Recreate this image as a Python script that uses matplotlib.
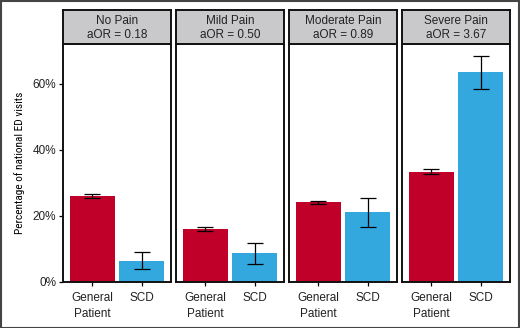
import matplotlib
matplotlib.use("Agg")
import matplotlib.pyplot as plt
from matplotlib import font_manager
from matplotlib.patches import Rectangle
from matplotlib.ticker import PercentFormatter

plt.rcParams['font.family'] = ['Liberation Sans', 'DejaVu Sans']

# data
pain_levels = ['No Pain', 'Mild Pain', 'Moderate Pain', 'Severe Pain']
aor = ['0.18', '0.50', '0.89', '3.67']
groups = ['General\nPatient', 'SCD']

gp_pct = [26.1, 16.0, 24.1, 33.3]
gp_lo = [25.4, 15.5, 23.6, 32.7]
gp_hi = [26.8, 16.6, 24.6, 34.1]

scd_pct = [6.4, 8.7, 21.1, 63.5]
scd_lo = [3.8, 5.6, 16.7, 58.5]
scd_hi = [9.1, 11.7, 25.5, 68.6]

RED = '#C1002A'
BLUE = '#33A8DF'
STRIP = '#C9C9CB'

# narrow font for the y label if one is installed
installed = {(f.name, f.stretch) for f in font_manager.fontManager.ttflist}
narrow = None
for name in ['Liberation Sans Narrow', 'DejaVu Sans Condensed', 'Roboto Condensed']:
    if any(n == name for n, _ in installed):
        narrow = dict(family=[name, 'DejaVu Sans'], fontsize=8.2)
        break
if narrow is None and any(n == 'DejaVu Sans' and str(s).startswith('condensed')
                          for n, s in installed):
    narrow = dict(family=['DejaVu Sans'], fontstretch='condensed', fontsize=7.3)
if narrow is None:
    narrow = dict(family=['Liberation Sans', 'DejaVu Sans'], fontsize=6.8)

W, H = 520, 328
fig = plt.figure(figsize=(W / 100, H / 100), dpi=100)

panel_left = [63, 176, 289, 402]
panel_w = 108
plot_top, plot_bot = 44, 282
strip_top = 10

for i, px in enumerate(panel_left):
    ax = fig.add_axes([px / W, 1 - plot_bot / H, panel_w / W, (plot_bot - plot_top) / H])
    vals = [gp_pct[i], scd_pct[i]]
    lo = [gp_lo[i], scd_lo[i]]
    hi = [gp_hi[i], scd_hi[i]]
    x = [1, 2]
    ax.bar(x, vals, width=0.9, color=[RED, BLUE], zorder=2)
    yerr = [[v - l for v, l in zip(vals, lo)], [h - v for v, h in zip(vals, hi)]]
    ax.errorbar(x, vals, yerr=yerr, fmt='none', ecolor='black', elinewidth=0.9,
                capsize=5.5, capthick=0.9, zorder=3)
    ax.set_xlim(0.4, 2.6)
    ax.set_ylim(0, 72.1)
    ax.set_xticks(x)
    ax.set_xticklabels(groups, fontsize=8.5, color='#222222', linespacing=1.45)
    ax.tick_params(axis='x', length=3, width=0.9, pad=4)
    for s in ax.spines.values():
        s.set_linewidth(1.4)
        s.set_color('#111111')
    if i == 0:
        ax.set_yticks([0, 20, 40, 60])
        ax.yaxis.set_major_formatter(PercentFormatter(decimals=0))
        ax.tick_params(axis='y', length=3, width=0.9, labelsize=8.5,
                       labelcolor='#222222', pad=2)
        ax.set_ylabel('Percentage of national ED visits', labelpad=5, **narrow)
    else:
        ax.set_yticks([])

    # facet strip
    sax = fig.add_axes([px / W, 1 - plot_top / H, panel_w / W, (plot_top - strip_top) / H])
    sax.set_facecolor(STRIP)
    sax.set_xticks([])
    sax.set_yticks([])
    for s in sax.spines.values():
        s.set_linewidth(1.4)
        s.set_color('#111111')
    sax.text(0.5, 0.47, f'{pain_levels[i]}\naOR = {aor[i]}', ha='center', va='center',
             fontsize=8.5, color='#222222', linespacing=1.3, transform=sax.transAxes)

# outer frame
fig.patches.append(Rectangle((0.5 / W, 0.5 / H), 1 - 1.5 / W, 1 - 1.5 / H,
                             transform=fig.transFigure, fill=False,
                             edgecolor='#444444', linewidth=1.5))

fig.savefig('out.png', dpi=100)
